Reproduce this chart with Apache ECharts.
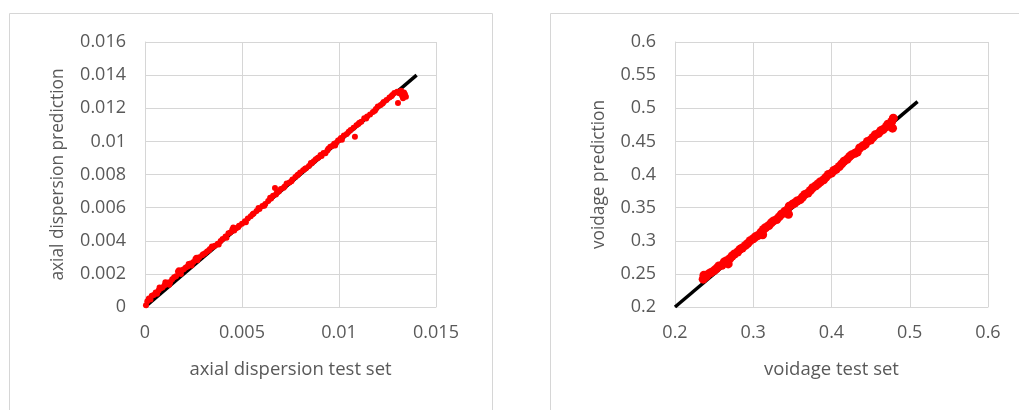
<!DOCTYPE html>
<html>
<head>
<meta charset="utf-8">
<script src="https://cdn.jsdelivr.net/npm/echarts@6/dist/echarts.min.js"></script>
<style>html,body{margin:0;padding:0;background:#fff}#c{width:1019px;height:410px}</style>
</head>
<body>
<div id="c"></div>
<script>
// ---- Left chart: axial dispersion ----
const axialTest = [0.00005,0.00012,0.00020,0.00028,0.00035,0.00045,0.00055,0.00062,0.00070,0.00080,0.00090,0.00100,0.00110,0.00120,0.00130,0.00140,0.00150,0.00160,0.00170,0.00180,0.00190,0.00200,0.00210,0.00220,0.00235,0.00250,0.00260,0.00270,0.00280,0.00295,0.00310,0.00320,0.00335,0.00350,0.00360,0.00375,0.00390,0.00400,0.00415,0.00430,0.00440,0.00450,0.00460,0.00470,0.00485,0.00500,0.00515,0.00530,0.00545,0.00560,0.00575,0.00590,0.00605,0.00620,0.00635,0.00650,0.00660,0.00670,0.00675,0.00690,0.00700,0.00715,0.00730,0.00745,0.00760,0.00775,0.00790,0.00800,0.00815,0.00830,0.00845,0.00855,0.00870,0.00880,0.00895,0.00905,0.00920,0.00930,0.00945,0.00955,0.00965,0.00975,0.00985,0.00995,0.01005,0.01015,0.01025,0.01040,0.01060,0.01075,0.01082,0.01090,0.01100,0.01115,0.01130,0.01145,0.01160,0.01175,0.01190,0.01200,0.01215,0.01230,0.01245,0.01260,0.01275,0.01285,0.01300,0.01304,0.01310,0.01320,0.01325,0.01330,0.01335,0.01340,0.01345,
  0.00075,0.00105,0.00125,0.00175,0.00185,0.00225,0.00240,0.00265,0.00300,0.00330,0.00345,0.00380,0.00420,0.00455,0.00480,0.00520,0.00555,0.00585,0.00615,0.00645,0.00680,0.00720,0.00755,0.00785,0.00825,0.00860,0.00890,0.00910,0.00940,0.00980,0.01010,0.01050,0.01105,0.01140,0.01185,0.01225,0.01270,0.01315];
const axialPred = [0.00010,0.00035,0.00052,0.00045,0.00068,0.00072,0.00088,0.00080,0.00100,0.00112,0.00118,0.00130,0.00140,0.00148,0.00150,0.00168,0.00180,0.00185,0.00215,0.00205,0.00222,0.00228,0.00238,0.00245,0.00262,0.00272,0.00290,0.00282,0.00300,0.00312,0.00325,0.00335,0.00350,0.00362,0.00370,0.00382,0.00398,0.00410,0.00425,0.00445,0.00450,0.00468,0.00462,0.00475,0.00490,0.00502,0.00518,0.00535,0.00548,0.00565,0.00580,0.00592,0.00610,0.00622,0.00640,0.00655,0.00672,0.00718,0.00680,0.00698,0.00712,0.00720,0.00745,0.00752,0.00770,0.00785,0.00800,0.00812,0.00825,0.00838,0.00852,0.00870,0.00880,0.00892,0.00902,0.00918,0.00930,0.00928,0.00955,0.00968,0.00972,0.00985,0.00990,0.01005,0.01012,0.01010,0.01035,0.01045,0.01068,0.01082,0.01028,0.01098,0.01105,0.01118,0.01140,0.01150,0.01162,0.01178,0.01195,0.01210,0.01220,0.01238,0.01250,0.01265,0.01280,0.01292,0.01300,0.01232,0.01290,0.01305,0.01275,0.01260,0.01295,0.01285,0.01270,
  0.00118,0.00150,0.00135,0.00222,0.00200,0.00260,0.00250,0.00298,0.00318,0.00342,0.00365,0.00378,0.00418,0.00480,0.00482,0.00512,0.00560,0.00598,0.00612,0.00660,0.00692,0.00728,0.00760,0.00795,0.00835,0.00868,0.00900,0.00912,0.00945,0.00975,0.01020,0.01058,0.01112,0.01138,0.01185,0.01228,0.01272,0.01295];
const axialLineX = [0, 0.014];
const axialLineY = [0, 0.014];

// ---- Right chart: voidage ----
const voidTest = [0.236,0.237,0.240,0.243,0.246,0.250,0.253,0.256,0.260,0.263,0.266,0.268,0.270,0.273,0.276,0.280,0.283,0.286,0.290,0.293,0.296,0.300,0.303,0.306,0.310,0.312,0.313,0.316,0.320,0.323,0.326,0.330,0.333,0.336,0.340,0.343,0.345,0.346,0.350,0.353,0.356,0.360,0.363,0.366,0.370,0.373,0.376,0.380,0.383,0.386,0.390,0.393,0.396,0.400,0.403,0.406,0.410,0.413,0.416,0.420,0.423,0.426,0.430,0.433,0.436,0.440,0.443,0.446,0.450,0.453,0.456,0.460,0.463,0.466,0.470,0.472,0.475,0.477,0.478,0.479];
const voidPred = [0.242,0.248,0.246,0.250,0.252,0.255,0.258,0.262,0.263,0.268,0.270,0.265,0.273,0.277,0.280,0.283,0.287,0.289,0.293,0.296,0.300,0.303,0.306,0.308,0.313,0.309,0.317,0.320,0.323,0.327,0.330,0.332,0.336,0.340,0.344,0.346,0.340,0.352,0.355,0.357,0.360,0.362,0.366,0.370,0.372,0.376,0.380,0.383,0.386,0.389,0.392,0.396,0.400,0.402,0.406,0.408,0.412,0.416,0.420,0.423,0.427,0.430,0.432,0.434,0.440,0.443,0.445,0.450,0.452,0.456,0.460,0.462,0.466,0.468,0.472,0.476,0.474,0.480,0.470,0.485];
const voidLineX = [0.2, 0.51];
const voidLineY = [0.2, 0.51];

const zip = (a, b) => a.map((v, i) => [v, b[i]]);

const FONT = 'Open Sans';
const TXT = '#595959';
const GRID = '#d6d6d6';

function valAxis(gridIndex, min, max, interval, name, isY, nameGap) {
  return {
    type: 'value', gridIndex, min, max, interval,
    name, nameLocation: 'middle', nameGap,
    nameTextStyle: { color: TXT, fontFamily: FONT, fontSize: isY ? 17.3 : 18.5 },
    axisLine: { show: true, lineStyle: { color: GRID, width: 1 } },
    axisTick: { show: false },
    axisLabel: { color: TXT, fontFamily: FONT, fontSize: 18, margin: isY ? 19 : 17, showMinLabel: true, showMaxLabel: true },
    splitLine: { show: true, lineStyle: { color: GRID, width: 1 } }
  };
}

const chart = echarts.init(document.getElementById('c'), null, { renderer: 'canvas' });
chart.setOption({
  animation: false,
  backgroundColor: '#fff',
  graphic: [
    { type: 'rect', shape: { x: 9.5, y: 13.5, width: 483, height: 420 }, style: { fill: 'none', stroke: GRID, lineWidth: 1 }, z: -10 },
    { type: 'rect', shape: { x: 550.5, y: 13.5, width: 490, height: 420 }, style: { fill: 'none', stroke: GRID, lineWidth: 1 }, z: -10 }
  ],
  grid: [
    { left: 145, top: 42, width: 291, height: 265 },
    { left: 675, top: 42, width: 313, height: 265 }
  ],
  xAxis: [
    valAxis(0, 0, 0.015, 0.005, 'axial dispersion test set', false, 53),
    valAxis(1, 0.2, 0.6, 0.1, 'voidage test set', false, 53)
  ],
  yAxis: [
    valAxis(0, 0, 0.016, 0.002, 'axial dispersion prediction', true, 78),
    valAxis(1, 0.2, 0.6, 0.05, 'voidage prediction', true, 67)
  ],
  series: [
    { type: 'line', xAxisIndex: 0, yAxisIndex: 0, data: zip(axialLineX, axialLineY), showSymbol: false, lineStyle: { color: '#000', width: 3.5 }, z: 2 },
    { type: 'scatter', xAxisIndex: 0, yAxisIndex: 0, data: zip(axialTest, axialPred), symbolSize: 6, itemStyle: { color: '#ff0000', opacity: 1 }, z: 3 },
    { type: 'line', xAxisIndex: 1, yAxisIndex: 1, data: zip(voidLineX, voidLineY), showSymbol: false, lineStyle: { color: '#000', width: 3.5 }, z: 2 },
    { type: 'scatter', xAxisIndex: 1, yAxisIndex: 1, data: zip(voidTest, voidPred), symbolSize: 9, itemStyle: { color: '#ff0000', opacity: 1 }, z: 3 }
  ]
});
</script>
</body>
</html>
